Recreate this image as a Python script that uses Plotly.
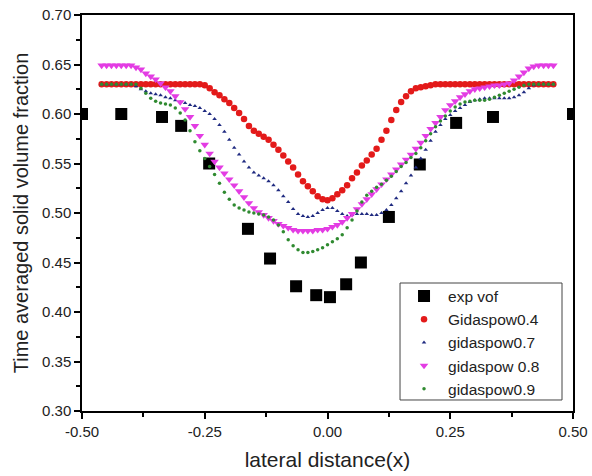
import numpy as np
import plotly.graph_objects as go

# Experimental data
exp_x = [-0.50, -0.42, -0.337, -0.298, -0.241, -0.162, -0.117, -0.064, -0.023, 0.005,
         0.038, 0.068, 0.125, 0.188, 0.262, 0.337, 0.50]
exp_y = [0.600, 0.600, 0.597, 0.588, 0.550, 0.484, 0.454, 0.426, 0.417, 0.415,
         0.428, 0.450, 0.496, 0.549, 0.591, 0.597, 0.600]

# Simulation x positions (-0.46 .. 0.46 step 0.01)
sim_x = [round(-0.46 + 0.01 * i, 2) for i in range(93)]

g04 = [0.630] * 21 + [
    0.629, 0.626, 0.622, 0.619, 0.615, 0.611, 0.606, 0.601, 0.595, 0.588,
    0.583, 0.580, 0.577, 0.574, 0.569, 0.564, 0.558, 0.552, 0.546, 0.539,
    0.532, 0.527, 0.522, 0.517, 0.514, 0.513, 0.515, 0.519, 0.523, 0.528,
    0.535, 0.541, 0.548, 0.553, 0.559, 0.565, 0.574, 0.583, 0.594, 0.604,
    0.612, 0.618, 0.623, 0.626, 0.627, 0.628, 0.629] + [0.630] * 25

g07 = [0.630] * 7 + [
    0.628, 0.625, 0.623, 0.621, 0.620, 0.619, 0.617, 0.616, 0.614, 0.612,
    0.611, 0.609, 0.608, 0.606, 0.603, 0.600, 0.595, 0.589, 0.582, 0.574,
    0.566, 0.559, 0.552, 0.546, 0.541, 0.538, 0.535, 0.532, 0.528, 0.523,
    0.517, 0.511, 0.504, 0.499, 0.497, 0.496, 0.497, 0.500, 0.503, 0.505,
    0.505, 0.502, 0.499, 0.497, 0.498, 0.499, 0.499, 0.499, 0.498, 0.498,
    0.500, 0.503, 0.508, 0.515, 0.522, 0.530, 0.538, 0.546, 0.555, 0.564,
    0.573, 0.582, 0.589, 0.595, 0.599, 0.603, 0.606, 0.609, 0.612, 0.614,
    0.615, 0.616, 0.616, 0.616, 0.616, 0.616, 0.616, 0.617, 0.619, 0.622,
    0.626, 0.629] + [0.630] * 4

g08 = [0.649] * 7 + [
    0.647, 0.645, 0.641, 0.638, 0.635, 0.631, 0.627, 0.623, 0.618, 0.612,
    0.605, 0.597, 0.588, 0.578, 0.569, 0.560, 0.552, 0.546, 0.540, 0.534,
    0.528, 0.522, 0.516, 0.510, 0.505, 0.501, 0.498, 0.495, 0.492, 0.489,
    0.487, 0.485, 0.483, 0.482, 0.482, 0.482, 0.482, 0.483, 0.483, 0.484,
    0.486, 0.488, 0.491, 0.495, 0.499, 0.504, 0.509, 0.514, 0.519, 0.524,
    0.529, 0.534, 0.539, 0.544, 0.549, 0.554, 0.559, 0.565, 0.571, 0.578,
    0.585, 0.591, 0.597, 0.604, 0.609, 0.613, 0.617, 0.620, 0.623, 0.625,
    0.626, 0.627, 0.628, 0.629, 0.629, 0.630, 0.631, 0.634, 0.638, 0.642,
    0.646, 0.648] + [0.649] * 4

g09 = [0.630] * 8 + [
    0.626, 0.621, 0.616, 0.613, 0.611, 0.610, 0.609, 0.606, 0.601, 0.594,
    0.583, 0.572, 0.563, 0.555, 0.547, 0.539, 0.530, 0.521, 0.514, 0.508,
    0.505, 0.503, 0.501, 0.500, 0.499, 0.498, 0.496, 0.493, 0.488, 0.481,
    0.473, 0.467, 0.463, 0.460, 0.460, 0.461, 0.463, 0.465, 0.468, 0.471,
    0.474, 0.478, 0.485, 0.493, 0.502, 0.511, 0.518, 0.522, 0.526, 0.529,
    0.533, 0.537, 0.542, 0.547, 0.551, 0.556, 0.560, 0.566, 0.573, 0.580,
    0.587, 0.593, 0.598, 0.603, 0.607, 0.610, 0.612, 0.613, 0.614, 0.614,
    0.614, 0.615, 0.617, 0.619, 0.621, 0.623, 0.625, 0.627, 0.629] + [0.630] * 6

x_ticks = [-0.50, -0.25, 0.00, 0.25, 0.50]
y_ticks = [0.30, 0.35, 0.40, 0.45, 0.50, 0.55, 0.60, 0.65, 0.70]

FONT = "Liberation Sans, Arial"

fig = go.Figure()
fig.add_trace(go.Scatter(x=exp_x, y=exp_y, mode="markers", name="exp vof",
                         marker=dict(symbol="square", size=12, color="black")))
fig.add_trace(go.Scatter(x=sim_x, y=g04, mode="markers", name="Gidaspow0.4",
                         marker=dict(symbol="circle", size=6.5, color="#e31a1a")))
fig.add_trace(go.Scatter(x=sim_x, y=g07, mode="markers", name="gidaspow0.7",
                         marker=dict(symbol="triangle-up", size=4, color="#1f2a80")))
fig.add_trace(go.Scatter(x=sim_x, y=g08, mode="markers", name="gidaspow 0.8",
                         marker=dict(symbol="triangle-down", size=7.5, color="#e33ce3")))
fig.add_trace(go.Scatter(x=sim_x, y=g09, mode="markers", name="gidaspow0.9",
                         marker=dict(symbol="circle", size=3.5, color="#2f8a30")))

axis_common = dict(showline=True, linecolor="black", linewidth=1.5, mirror=True,
                   ticks="outside", ticklen=6, tickwidth=1.5, tickcolor="black",
                   showgrid=False, zeroline=False, automargin=False,
                   tickfont=dict(family=FONT, size=15, color="#222"))

fig.update_xaxes(range=[-0.5, 0.5], tickvals=x_ticks,
                 ticktext=[f"{v:.2f}" for v in x_ticks],
                 minor=dict(ticks="outside", ticklen=4, tickwidth=1.5, tickcolor="black",
                            dtick=0.125, tick0=-0.5, showgrid=False),
                 title=dict(text="lateral distance(x)",
                            font=dict(family=FONT, size=21, color="#222"),
                            standoff=14),
                 **axis_common)
fig.update_yaxes(range=[0.30, 0.70], tickvals=y_ticks,
                 ticktext=[f"{v:.2f}" for v in y_ticks],
                 minor=dict(ticks="outside", ticklen=4, tickwidth=1.5, tickcolor="black",
                            dtick=0.025, tick0=0.3, showgrid=False),
                 title=dict(text="Time averaged solid volume fraction",
                            font=dict(family=FONT, size=20, color="#222"),
                            standoff=8),
                 **axis_common)

# legend frame drawn as a box, legend itself frameless
fig.add_shape(type="rect", xref="paper", yref="paper",
              x0=0.6477, x1=0.9776, y0=0.0278, y1=0.3232,
              line=dict(color="#444", width=1), fillcolor="white", layer="above")

fig.update_layout(
    width=592, height=476,
    margin=dict(l=82, r=19, t=15, b=65),
    paper_bgcolor="white", plot_bgcolor="white",
    legend=dict(x=0.6477, y=0.332, xanchor="left", yanchor="top",
                borderwidth=0, bgcolor="rgba(0,0,0,0)",
                font=dict(family=FONT, size=15.5, color="#222"),
                tracegroupgap=0, itemwidth=38),
    showlegend=True,
)

fig.write_html("out.html")
